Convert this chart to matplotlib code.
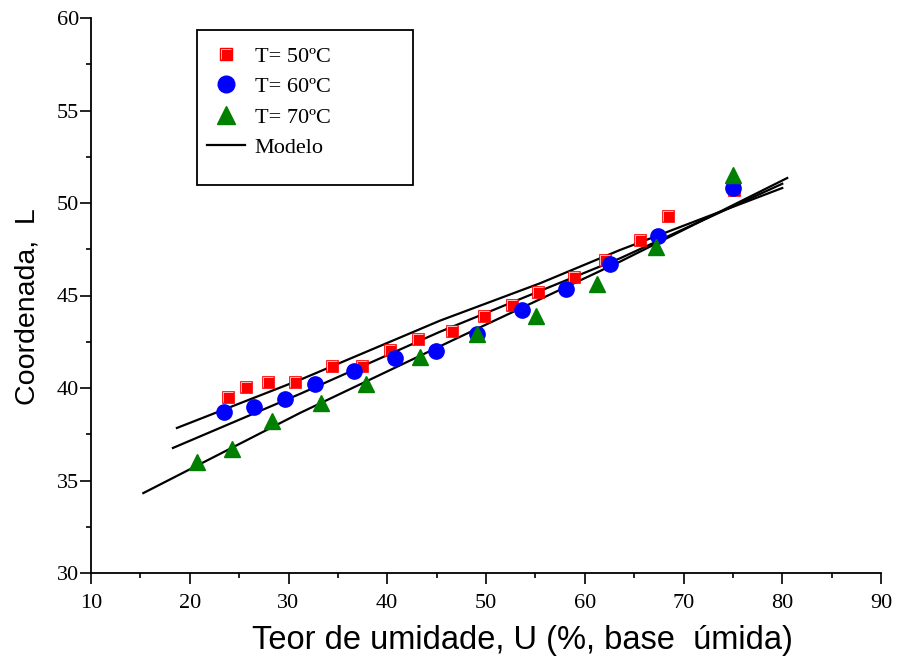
import matplotlib
matplotlib.use("Agg")
import matplotlib.pyplot as plt
from matplotlib.path import Path
from matplotlib.lines import Line2D
from matplotlib.patches import Rectangle

# ---- data ----
U50 = [23.9, 25.7, 27.9, 30.7, 34.4, 37.4, 40.3, 43.1, 46.6, 49.8, 52.6, 55.3, 58.9, 62.0, 65.6, 68.4, 75.1]
L50 = [39.5, 40.05, 40.3, 40.3, 41.2, 41.2, 42.05, 42.65, 43.1, 43.9, 44.5, 45.2, 46.0, 46.9, 48.0, 49.3, 50.7]

U60 = [23.5, 26.5, 29.6, 32.7, 36.6, 40.8, 44.9, 49.1, 53.6, 58.1, 62.6, 67.4, 75.0]
L60 = [38.7, 39.0, 39.4, 40.2, 40.9, 41.6, 42.0, 42.9, 44.2, 45.35, 46.7, 48.2, 50.8]

U70 = [20.7, 24.3, 28.3, 33.3, 37.8, 43.3, 49.1, 55.1, 61.2, 67.2, 75.0]
L70 = [36.0, 36.7, 38.2, 39.2, 40.2, 41.7, 42.9, 43.9, 45.6, 47.6, 51.5]

model50_U = [18.7, 31.2, 45.34, 55.47, 63.57, 80.0]
model50_L = [37.84, 40.45, 43.64, 45.66, 47.46, 50.81]
model60_U = [18.3, 31.16, 45.34, 63.57, 80.0]
model60_L = [36.76, 39.68, 43.04, 47.01, 51.04]
model70_U = [15.3, 31.16, 46.66, 63.57, 80.5]
model70_L = [34.32, 38.65, 42.59, 46.83, 51.35]

labels = ["T= 50\u00baC", "T= 60\u00baC", "T= 70\u00baC", "Modelo"]
xticks = [10, 20, 30, 40, 50, 60, 70, 80, 90]
yticks = [30, 35, 40, 45, 50, 55, 60]

W, H = 898, 657
fig = plt.figure(figsize=(W / 100, H / 100), dpi=100)
ax = fig.add_axes([91 / W, 1 - 573 / H, (881 - 91) / W, (573 - 18) / H])

# bevel highlight marker for the squares
gamma = Path([(-0.72, -0.85), (-0.72, 0.72), (0.85, 0.72)],
             [Path.MOVETO, Path.LINETO, Path.LINETO])

sq_ms = 9.2
for mu, ml in [(model50_U, model50_L), (model60_U, model60_L), (model70_U, model70_L)]:
    ax.plot(mu, ml, color="black", lw=1.6, zorder=2)

ax.plot(U50, L50, ls="none", marker="s", ms=sq_ms, mfc="#ff0000", mec="#ff0000", mew=0.5, zorder=3)
ax.plot(U50, L50, ls="none", marker=gamma, ms=sq_ms * 0.85, mfc="none", mec="white", mew=0.5, zorder=3)
ax.plot(U60, L60, ls="none", marker="o", ms=11, mfc="#0000ff", mec="#0000ff", zorder=3)
ax.plot(U70, L70, ls="none", marker="^", ms=12, mfc="#008000", mec="#008000", zorder=3)

ax.set_xlim(10, 90)
ax.set_ylim(30, 60)
ax.spines["top"].set_visible(False)
ax.spines["right"].set_visible(False)
for s in ("left", "bottom"):
    ax.spines[s].set_linewidth(1.3)
ax.set_xticks(xticks)
ax.set_yticks(yticks)
ax.set_xticks([15, 25, 35, 45, 55, 65, 75, 85], minor=True)
ax.set_yticks([32.5, 37.5, 42.5, 47.5, 52.5, 57.5], minor=True)
ax.tick_params(which="major", direction="out", length=7.8, width=1.2)
ax.tick_params(which="minor", direction="out", length=3.8, width=1.2)
ax.tick_params(axis="x", which="major", pad=7)
ax.tick_params(axis="y", which="major", pad=1)
for lab in ax.get_xticklabels() + ax.get_yticklabels():
    lab.set_fontfamily("Liberation Serif")
    lab.set_fontsize(16)

ax.set_xlabel("Teor de umidade, U (%, base  úmida)", fontfamily="Liberation Sans",
              fontsize=23.5)
ax.xaxis.set_label_coords((522 - 91) / 790, -(641 - 573) / 555)
ax.xaxis.label.set_va("center")
ax.set_ylabel("Coordenada,  L", fontfamily="Liberation Sans", fontsize=20.5)
ax.yaxis.set_label_coords(-(91 - 28) / 790, (573 - 307) / 555)
ax.yaxis.label.set_va("center")

# legend box
x0 = (197 - 91) / 790
x1 = (413 - 91) / 790
yt = (573 - 30) / 555
yb = (573 - 185) / 555
ax.add_patch(Rectangle((x0, yb), x1 - x0, yt - yb, transform=ax.transAxes,
                       facecolor="white", edgecolor="black", lw=1.3, zorder=5))

h50 = (Line2D([], [], ls="none", marker="s", ms=sq_ms, mfc="#ff0000", mec="#ff0000"),
       Line2D([], [], ls="none", marker=gamma, ms=sq_ms * 0.85, mfc="none", mec="white", mew=0.5))
h60 = Line2D([], [], ls="none", marker="o", ms=12, mfc="#0000ff", mec="#0000ff")
h70 = Line2D([], [], ls="none", marker="^", ms=12.5, mfc="#008000", mec="#008000")
hm = Line2D([], [], color="black", lw=1.6)
leg = ax.legend([h50, h60, h70, hm], labels, loc="upper left",
                bbox_to_anchor=((207 - 91) / 790, (573 - 46) / 555),
                frameon=False, borderpad=0, borderaxespad=0, handlelength=1.7,
                handletextpad=0.45, labelspacing=0.45,
                prop={"family": "Liberation Serif", "size": 16})
leg.set_zorder(6)

fig.savefig("out.png", dpi=100)
